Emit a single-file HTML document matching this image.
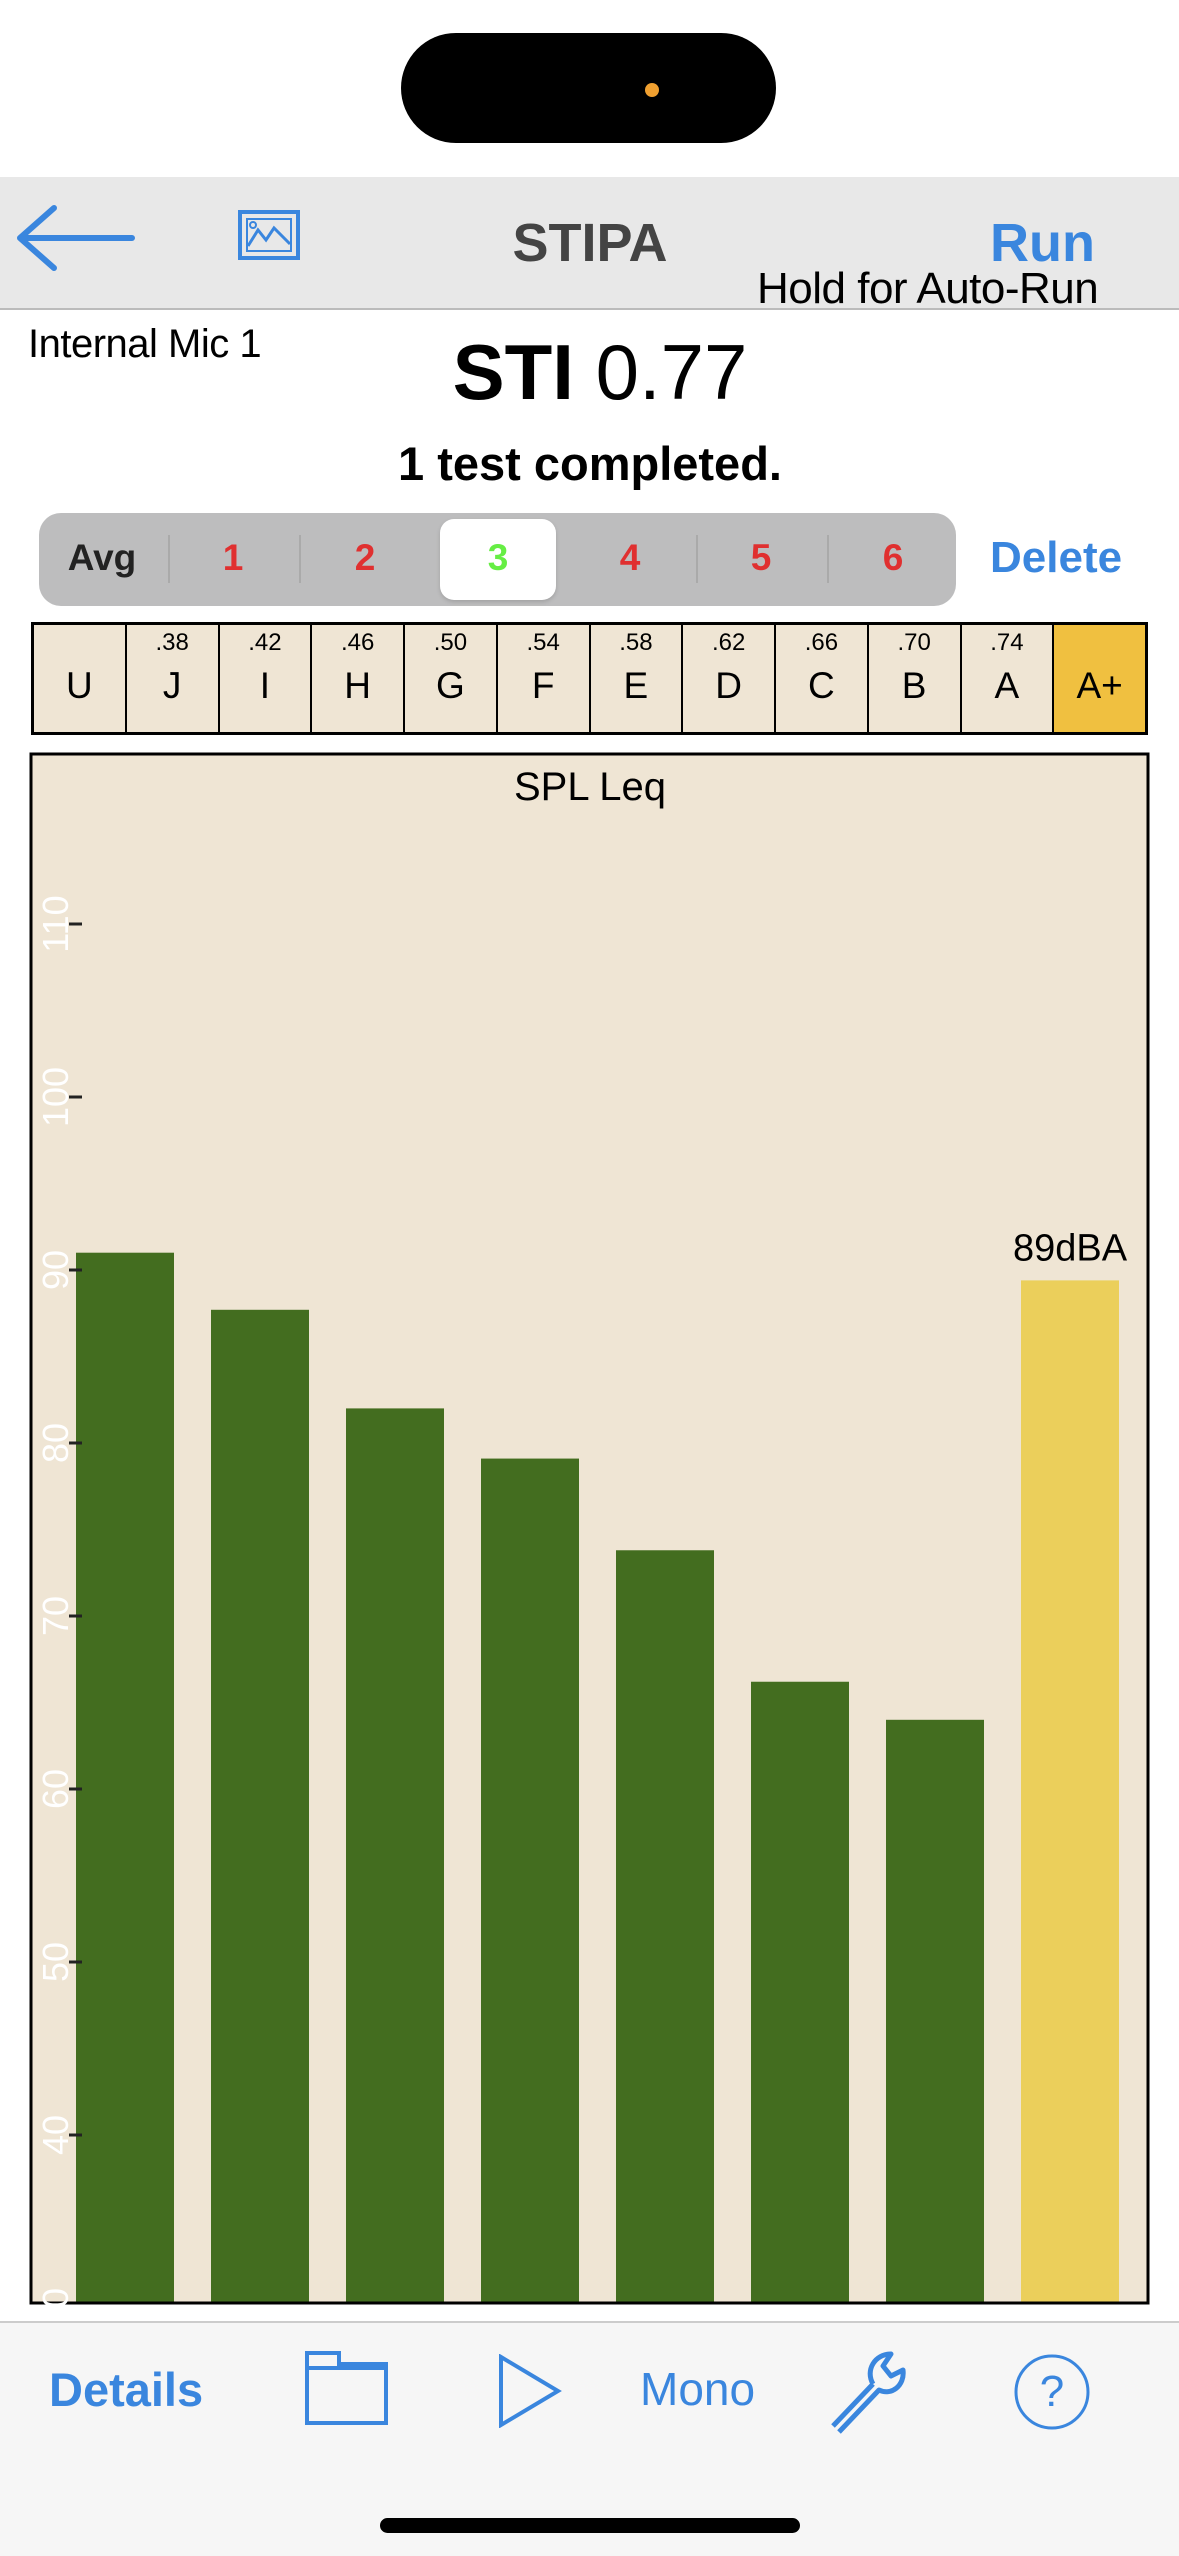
<!DOCTYPE html>
<html><head><meta charset="utf-8">
<style>
*{margin:0;padding:0;box-sizing:border-box}
body{width:1179px;height:2556px;position:relative;background:#fff;font-family:"Liberation Sans",sans-serif;overflow:hidden}
.abs{position:absolute}
</style></head><body>
<div class="abs" style="left:401px;top:33px;width:375px;height:110px;border-radius:55px;background:#000"></div>
<div class="abs" style="left:645px;top:83px;width:14px;height:14px;border-radius:7px;background:#f0a030"></div>

<div class="abs" style="left:0;top:177px;width:1179px;height:133px;background:#e8e8e8;border-bottom:2px solid #bbb"></div>
<svg class="abs" style="left:12px;top:204px" width="125" height="68"><path d="M8 34 H120 M8 34 L42 4 M8 34 L42 64" stroke="#3a86de" stroke-width="6" fill="none" stroke-linecap="round"/></svg>
<svg class="abs" style="left:238px;top:210px" width="64" height="52"><rect x="2" y="2" width="58" height="46" fill="none" stroke="#3a86de" stroke-width="4"/><rect x="9" y="9" width="44" height="32" fill="none" stroke="#3a86de" stroke-width="2"/><path d="M10 36 L20 20 L28 30 L36 18 L52 34" stroke="#3a86de" stroke-width="3" fill="none"/><circle cx="15" cy="15" r="3" fill="none" stroke="#3a86de" stroke-width="2"/></svg>
<div class="abs" style="left:440px;top:212px;width:300px;text-align:center;font-size:54px;font-weight:bold;color:#444">STIPA</div>
<div class="abs" style="left:990px;top:212px;font-size:54px;font-weight:bold;color:#3a86de">Run</div>
<div class="abs" style="left:757px;top:264px;font-size:44px;color:#000;white-space:nowrap;letter-spacing:-0.5px">Hold for Auto-Run</div>

<div class="abs" style="left:28px;top:322px;font-size:40px;letter-spacing:-0.5px">Internal Mic 1</div>
<div class="abs" style="left:390px;top:327px;width:420px;text-align:center;font-size:78px"><b>STI</b> 0.77</div>
<div class="abs" style="left:290px;top:436px;width:600px;text-align:center;font-size:47px;font-weight:bold">1 test completed.</div>

<div class="abs" style="left:39px;top:513px;width:917px;height:93px;border-radius:22px;background:#bdbdbe"></div>
<div class="abs" style="left:440px;top:519px;width:116px;height:81px;border-radius:14px;background:#fff;box-shadow:0 2px 4px rgba(0,0,0,.15)"></div>
<div id="segs"></div>
<div class="abs" style="left:990px;top:533px;font-size:44px;font-weight:bold;color:#3a86de">Delete</div>

<div id="grades" class="abs" style="left:31px;top:622px;width:1117px;height:113px;border:3px solid #000;display:flex;background:#efe5d4"></div>

<svg class="abs" id="chart" style="left:0;top:0" width="1179" height="2556"></svg>

<div class="abs" style="left:0;top:2321px;width:1179px;height:235px;background:#f6f6f6;border-top:2px solid #ccc"></div>
<div class="abs" style="left:49px;top:2362px;font-size:47px;font-weight:bold;color:#3a86de">Details</div>
<svg class="abs" style="left:304px;top:2350px" width="86" height="76"><path d="M3 73 V3 H35 V14 H82 V73 Z M3 18 H82" fill="none" stroke="#3a86de" stroke-width="4"/></svg>
<svg class="abs" style="left:498px;top:2354px" width="66" height="74"><path d="M3 3 L60 37 L3 71 Z" fill="none" stroke="#3a86de" stroke-width="4"/></svg>
<div class="abs" style="left:640px;top:2362px;font-size:46px;color:#3a86de">Mono</div>
<svg class="abs" style="left:823px;top:2348px" width="90" height="86"><path d="M10 78 L50 36 M50 36 C42 22 52 6 68 6 L60 18 L68 28 L80 22 C82 38 68 48 56 42 L16 84" fill="none" stroke="#3a86de" stroke-width="5" stroke-linejoin="round"/></svg>
<svg class="abs" style="left:1012px;top:2352px" width="80" height="80"><circle cx="40" cy="40" r="36" fill="none" stroke="#3a86de" stroke-width="3"/><text x="40" y="54" text-anchor="middle" font-size="44" fill="#3a86de" font-family="Liberation Sans">?</text></svg>
<div class="abs" style="left:380px;top:2518px;width:420px;height:15px;border-radius:8px;background:#000"></div>

<script>
const segLabels=["Avg","1","2","3","4","5","6"];
const segColors=["#222","#e03030","#e03030","#66ee44","#e03030","#e03030","#e03030"];
const segCenters=[102,233,365,498,630,761,893];
const segs=document.getElementById('segs');
segLabels.forEach((s,i)=>{
  const d=document.createElement('div');
  
  
  d.className='abs';
  d.style.cssText=`left:${segCenters[i]-50}px;top:537px;width:100px;text-align:center;font-size:37px;font-weight:bold;color:${segColors[i]}`;
  d.textContent=s;segs.appendChild(d);
  if(i>0&&i!==3&&i!==4){const l=document.createElement('div');l.className='abs';
  
  
  l.style.cssText=`left:${(segCenters[i-1]+segCenters[i])/2}px;top:535px;width:2px;height:48px;background:#aaa`;segs.appendChild(l);}
});
const gradeLetters=["U","J","I","H","G","F","E","D","C","B","A","A+"];
const gradeVals=["",".38",".42",".46",".50",".54",".58",".62",".66",".70",".74",""];
const g=document.getElementById('grades');
gradeLetters.forEach((L,i)=>{
  const c=document.createElement('div');
  
  
  c.style.cssText=`flex:1;position:relative;${i<11?'border-right:2px solid #000;':''}background:${L==='A+'?'#f0c040':'#efe5d4'}`;
  c.innerHTML=`<div style="position:absolute;top:4px;width:100%;text-align:center;font-size:24px">${gradeVals[i]}</div><div style="position:absolute;top:40px;width:100%;text-align:center;font-size:37px">${L}</div>`;
  g.appendChild(c);
});

const bandNames=["125","250","500","1k","2k","4k","8k","dBA"];
const bandValues=[91.0,87.7,82.0,79.1,73.8,66.2,64.0,89.4];
const yTicks=[30,40,50,60,70,80,90,100,110];
const svg=document.getElementById('chart');const NS='http://www.w3.org/2000/svg';
const X0=31,X1=1148,Y0=754,Y1=2303;
const yScale=v=>1270-(v-90)*17.3;
const xScale=i=>76+i*135;
const BW=98;
function el(t,a){const e=document.createElementNS(NS,t);for(const k in a)e.setAttribute(k,a[k]);svg.appendChild(e);return e;}
const bg=el('rect',{x:X0,y:Y0,width:X1-X0,height:Y1-Y0,fill:'#efe5d4',stroke:'#000','stroke-width':3});


const tt=el('text',{x:590,y:800,'text-anchor':'middle','font-size':40,'font-family':'Liberation Sans'});tt.textContent='SPL Leq';


bandValues.forEach((v,i)=>{
  const y=yScale(v);
  const r=el('rect',{x:xScale(i),y:y,width:BW,height:Y1-1.5-y,fill:i===7?'#ebcf5b':'#436d1f'});
  
  
});
const lbl=el('text',{x:xScale(7)+BW/2,y:yScale(bandValues[7])-20,'text-anchor':'middle','font-size':38,'font-family':'Liberation Sans'});
lbl.textContent=Math.round(bandValues[7])+'dBA';


yTicks.forEach(t=>{
  const y=yScale(t);
  if(y>Y1+20)return;
  if(y<Y1){
  const tk=el('line',{x1:69,x2:82,y1:y,y2:y,stroke:'#222','stroke-width':3});
  
  }
  const tx=el('text',{x:0,y:0,transform:`translate(68,${y}) rotate(-90)`,'text-anchor':'middle','font-size':36,fill:'#fff','font-family':'Liberation Sans'});
  tx.textContent=t;
  
  
});
</script>
</body></html>
